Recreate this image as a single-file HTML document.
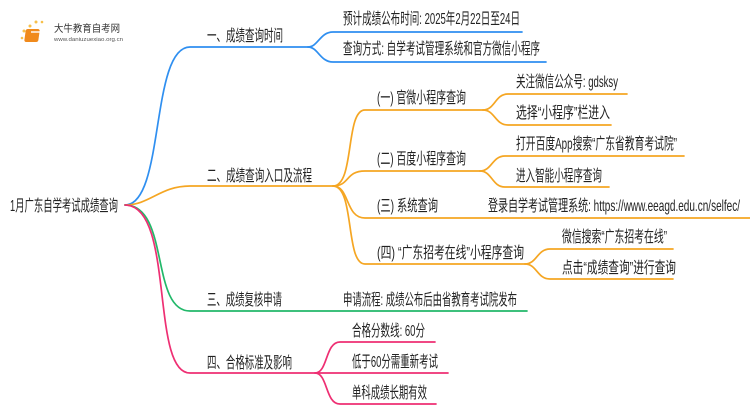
<!DOCTYPE html>
<html><head><meta charset="utf-8"><style>
html,body{margin:0;padding:0;background:#fff;}
svg{display:block;}
text{font-family:"Liberation Sans","Noto Sans CJK SC",sans-serif;font-size:16px;fill:#222;}
</style></head><body>
<svg width="750" height="410" viewBox="0 0 750 410" xmlns="http://www.w3.org/2000/svg">
<g fill="none" stroke-width="1.7" stroke-linecap="round">
<path stroke="#2f8ff0" d="M125,205 C165,205 150,47 190,47 L308,47"/>
<path stroke="#2f8ff0" d="M308,47 C318,47 320,32 333,32 L522,32"/>
<path stroke="#2f8ff0" d="M308,47 C318,47 320,62 333,62 L546,62"/>
<path stroke="#f5a623" d="M125,205 C150,205 160,186 190,186 L333,186"/>
<path stroke="#f5a623" d="M333,186 C355,186 345,110 365,110 L483,110"/>
<path stroke="#f5a623" d="M333,186 C350,186 345,171 365,171 L480,171"/>
<path stroke="#f5a623" d="M333,186 C350,186 345,218 365,218 L750,218"/>
<path stroke="#f5a623" d="M333,186 C355,186 345,264 365,264 L525,264"/>
<path stroke="#f5a623" d="M483,110 C495,110 495,94 508,94 L627,94"/>
<path stroke="#f5a623" d="M483,110 C495,110 495,125 508,125 L611,125"/>
<path stroke="#f5a623" d="M480,171 C492,171 492,156 505,156 L684,156"/>
<path stroke="#f5a623" d="M480,171 C492,171 492,187 505,187 L609,187"/>
<path stroke="#f5a623" d="M525,264 C537,264 537,249 550,249 L673,249"/>
<path stroke="#f5a623" d="M525,264 C537,264 537,279 550,279 L673,279"/>
<path stroke="#22b86a" d="M125,205 C170,205 150,311 190,311 L527,311"/>
<path stroke="#ee2f73" d="M125,205 C175,205 150,373 190,373 L315,373"/>
<path stroke="#ee2f73" d="M315,373 C328,373 325,342 340,342 L435,342"/>
<path stroke="#ee2f73" d="M315,373 L448,373"/>
<path stroke="#ee2f73" d="M315,373 C328,373 325,404 340,404 L436,404"/>
</g>
<g>
<circle cx="30" cy="26" r="1.5" fill="#f7c04a"/><circle cx="36" cy="22" r="1.5" fill="#f7c04a"/><circle cx="24" cy="31" r="1.5" fill="#f7c04a"/><circle cx="42" cy="22" r="1.3" fill="#f7c04a"/><circle cx="22" cy="38" r="1.3" fill="#f7c04a"/>
<rect x="30" y="29" width="14" height="13" rx="2" fill="#f08a1c" transform="skewX(-8)"/>
<rect x="31" y="31" width="9" height="2" fill="#fff" opacity="0.7"/>
<text x="54" y="32" textLength="66" lengthAdjust="spacingAndGlyphs" style="font-size:10px;fill:#333">大牛教育自考网</text>
<text x="54" y="41" textLength="69" lengthAdjust="spacingAndGlyphs" style="font-size:5px;fill:#555">www.daniuzuexiao.org.cn</text>
</g>
<text x="10" y="211" textLength="108" lengthAdjust="spacingAndGlyphs">1月广东自学考试成绩查询</text>
<text x="207" y="41" textLength="76" lengthAdjust="spacingAndGlyphs">一、成绩查询时间</text>
<text x="343" y="24" textLength="177" lengthAdjust="spacingAndGlyphs">预计成绩公布时间: 2025年2月22日至24日</text>
<text x="343" y="54" textLength="197" lengthAdjust="spacingAndGlyphs">查询方式: 自学考试管理系统和官方微信小程序</text>
<text x="207" y="181" textLength="105" lengthAdjust="spacingAndGlyphs">二、成绩查询入口及流程</text>
<text x="377" y="103" textLength="89" lengthAdjust="spacingAndGlyphs">(一) 官微小程序查询</text>
<text x="516" y="87" textLength="102" lengthAdjust="spacingAndGlyphs">关注微信公众号: gdsksy</text>
<text x="516" y="118" textLength="94" lengthAdjust="spacingAndGlyphs">选择“小程序”栏进入</text>
<text x="377" y="164" textLength="89" lengthAdjust="spacingAndGlyphs">(二) 百度小程序查询</text>
<text x="516" y="149" textLength="161" lengthAdjust="spacingAndGlyphs">打开百度App搜索“广东省教育考试院”</text>
<text x="516" y="181" textLength="86" lengthAdjust="spacingAndGlyphs">进入智能小程序查询</text>
<text x="377" y="211" textLength="61" lengthAdjust="spacingAndGlyphs">(三) 系统查询</text>
<text x="488" y="211" textLength="252" lengthAdjust="spacingAndGlyphs">登录自学考试管理系统: https://www.eeagd.edu.cn/selfec/</text>
<text x="377" y="258" textLength="147" lengthAdjust="spacingAndGlyphs">(四) “广东招考在线”小程序查询</text>
<text x="562" y="242" textLength="105" lengthAdjust="spacingAndGlyphs">微信搜索“广东招考在线”</text>
<text x="562" y="273" textLength="114" lengthAdjust="spacingAndGlyphs">点击“成绩查询”进行查询</text>
<text x="207" y="305" textLength="75" lengthAdjust="spacingAndGlyphs">三、成绩复核申请</text>
<text x="343" y="305" textLength="174" lengthAdjust="spacingAndGlyphs">申请流程: 成绩公布后由省教育考试院发布</text>
<text x="207" y="368" textLength="85" lengthAdjust="spacingAndGlyphs">四、合格标准及影响</text>
<text x="352" y="336" textLength="73" lengthAdjust="spacingAndGlyphs">合格分数线: 60分</text>
<text x="352" y="367" textLength="86" lengthAdjust="spacingAndGlyphs">低于60分需重新考试</text>
<text x="352" y="398" textLength="75" lengthAdjust="spacingAndGlyphs">单科成绩长期有效</text>
</svg>
</body></html>
